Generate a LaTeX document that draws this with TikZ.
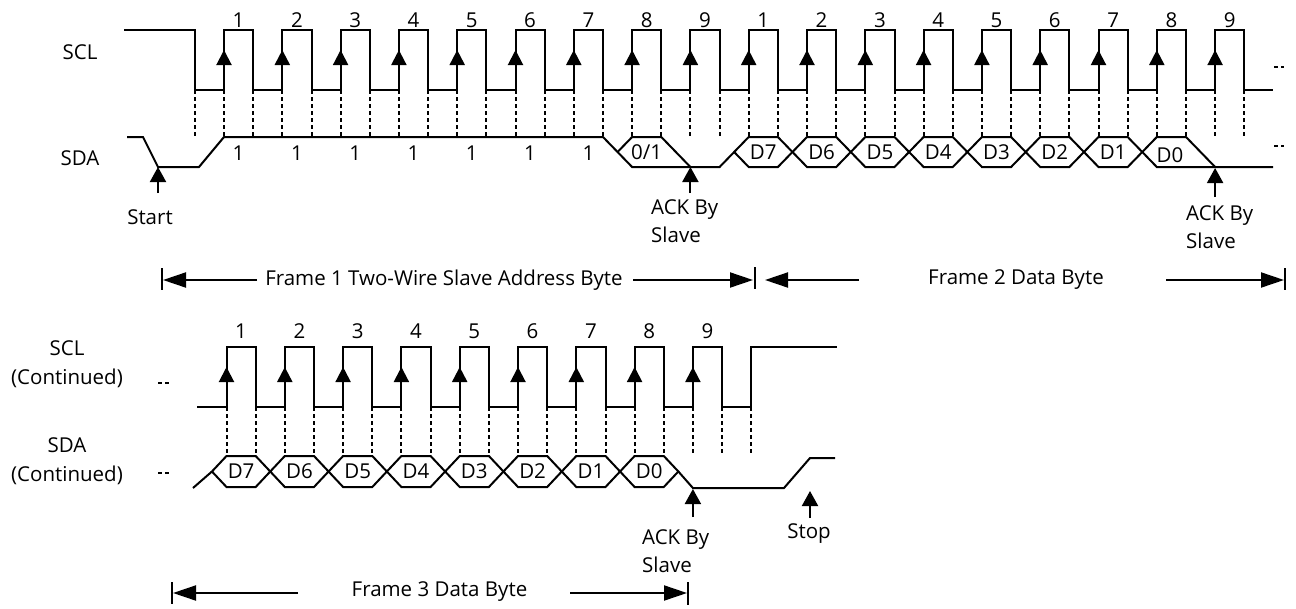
\documentclass[tikz,border=0pt]{standalone}
\usepackage{fontspec}
\setmainfont{Open Sans}
\usetikzlibrary{arrows.meta,calc}

\def\per{58.3}

\begin{document}
\begin{tikzpicture}[x=1pt,y=-1pt,
  wave/.style={line width=2pt},
  tick/.style={line width=2pt, dash pattern=on 4pt off 3pt},
  clk/.style={line width=2pt, -{Triangle[length=15pt,width=15pt]}},
  sig/.style={line width=2pt, -{Triangle[length=15pt,width=16pt]}},
  frm/.style={line width=2pt, -{Triangle[length=23pt,width=15pt]}},
  lbl/.style={font=\fontsize{20.5}{28.5}\selectfont, inner sep=0pt},
]
\useasboundingbox (0,0) rectangle (1296,608);

% signal names
\node[lbl] (scl) at (80,52) {SCL};
\node[lbl] (sda) at (80,158) {SDA};
\node[lbl, align=center] (sclc) at (67,364) {SCL\\(Continued)};
\node[lbl, align=center] (sdac) at (67,461) {SDA\\(Continued)};

% SCL, frame 1 and 2
\draw[wave] (124,30) -- (195,30) -- (195,90)
  foreach \i in {0,...,17} { -- ({224+\per*\i},90) -- ({224+\per*\i},30)
    -- ({253.2+\per*\i},30) -- ({253.2+\per*\i},90) } -- (1273,90);
\draw[tick] (195,90) -- (195,137);
\foreach \i in {0,...,17} {
  \pgfmathtruncatemacro\n{mod(\i,9)+1}
  \draw[clk] ({224+\per*\i},90) -- ({224+\per*\i},50);
  \node[lbl] (c\i) at ({238.6+\per*\i},20) {\n};
  \draw[tick] ({224+\per*\i},90) -- ({224+\per*\i},137);
  \draw[tick] ({253.2+\per*\i},90) -- ({253.2+\per*\i},137);
}
\draw[tick] (1274,67) -- (1284,67);

% SDA, frame 1 and 2
\draw[wave] (127,137) -- (143,137) -- (158,167) -- (199,167) -- (224,137)
  -- (603,137) -- (632.1,167) -- (719.6,167) -- (734.15,152);
\foreach \i in {0,...,6}
  \node[lbl] (a\i) at ({238.6+\per*\i},153) {1};
\draw[wave] (617.55,152) -- (632.1,137) -- (661.3,137) -- (690.4,167);
\node[lbl] (rw) at (646.7,152) {0/1};
\foreach \i/\d in {9/7,10/6,11/5,12/4,13/3,14/2,15/1} {
  \draw[wave] ({224+\per*\i-14.55},152) -- ({224+\per*\i},137)
    -- ({253.2+\per*\i},137) -- ({253.2+\per*\i+14.55},152)
    -- ({253.2+\per*\i},167) -- ({224+\per*\i},167) -- cycle;
  \node[lbl] (d\d) at ({238.6+\per*\i},152) {D\d};
}
\draw[wave] (1142.25,152) -- (1156.8,167) -- (1273,167);
\draw[wave] (1142.25,152) -- (1156.8,137) -- (1186,137) -- (1215.1,167);
\node[lbl] (d0) at (1170,155) {D0};
\draw[tick] (1274,146) -- (1284,146);

% start and ack
\coordinate (startpt) at (158,167);
\draw[sig] ($(startpt)+(0,26)$) -- (startpt);
\node[lbl] (start) at (150,217) {Start};
\coordinate (ackpt) at (690.4,167);
\draw[sig] ($(ackpt)+(0,26)$) -- (ackpt);
\node[lbl, align=left, anchor=west] (ack) at (651,221) {ACK By\\Slave};
\coordinate (ackpt2) at (1215.1,168);
\draw[sig] ($(ackpt2)+(0,29)$) -- (ackpt2);
\node[lbl, align=left, anchor=west] (ack2) at (1186,227) {ACK By\\Slave};

% frame arrows
\node[lbl] (f1) at (444,280) {Frame 1 Two-Wire Slave Address Byte};
\coordinate (f1a) at (257,280); \coordinate (f1l) at (163,280);
\coordinate (f1b) at (633,280); \coordinate (f1r) at (753,280);
\draw[frm] (f1a) -- (f1l);
\draw[frm] (f1b) -- (f1r);
\draw[wave] (162,268) -- (162,290);
\draw[wave] (754.5,267) -- (754.5,289);
\node[lbl] (f2) at (1016,280) {Frame 2 Data Byte};
\coordinate (f2a) at (859,280); \coordinate (f2l) at (765,280);
\coordinate (f2b) at (1166,280); \coordinate (f2r) at (1284,280);
\draw[frm] (f2a) -- (f2l);
\draw[frm] (f2b) -- (f2r);
\draw[wave] (1285,268) -- (1285,290);

% SCL, frame 3
\draw[wave] (197,407)
  foreach \i in {0,...,8} { -- ({226.5+\per*\i},407) -- ({226.5+\per*\i},347)
    -- ({255.7+\per*\i},347) -- ({255.7+\per*\i},407) }
  -- (751.2,407) -- (751.2,347) -- (837,347);
\foreach \i in {0,...,8} {
  \pgfmathtruncatemacro\n{\i+1}
  \draw[clk] ({226.5+\per*\i},407) -- ({226.5+\per*\i},367);
  \node[lbl] (e\i) at ({241.1+\per*\i},331) {\n};
  \draw[tick] ({226.5+\per*\i},407) -- ({226.5+\per*\i},455);
  \draw[tick] ({255.7+\per*\i},407) -- ({255.7+\per*\i},455);
}
\draw[tick] (751.2,407) -- (751.2,455);
\draw[tick] (158,383) -- (169,383);

% SDA, frame 3
\draw[wave] (193,488) -- (211.95,471.5);
\foreach \i/\d in {0/7,1/6,2/5,3/4,4/3,5/2,6/1,7/0} {
  \draw[wave] ({226.5+\per*\i-14.55},471.5) -- ({226.5+\per*\i},456)
    -- ({255.7+\per*\i},456) -- ({255.7+\per*\i+14.55},471.5)
    -- ({255.7+\per*\i},487) -- ({226.5+\per*\i},487) -- cycle;
  \node[lbl] (g\d) at ({241.1+\per*\i},471.5) {D\d};
}
\draw[wave] (678.35,471.5) -- (692.9,488) -- (784,488) -- (810,458) -- (835,458);
\draw[tick] (158,473) -- (169,473);

% ack and stop
\coordinate (ackpt3) at (692.9,489);
\draw[sig] ($(ackpt3)+(0,28)$) -- (ackpt3);
\node[lbl, align=left, anchor=west] (ack3) at (642,551) {ACK By\\Slave};
\coordinate (stoppt) at (810,491);
\draw[sig] ($(stoppt)+(0,27)$) -- (stoppt);
\node[lbl] (stop) at (809,534) {Stop};

% frame 3 arrows
\node[lbl] (f3) at (439.5,592) {Frame 3 Data Byte};
\coordinate (f3a) at (298,593); \coordinate (f3l) at (173,593);
\coordinate (f3b) at (570,593); \coordinate (f3r) at (687,593);
\draw[frm] (f3a) -- (f3l);
\draw[frm] (f3b) -- (f3r);
\draw[wave] (172,582) -- (172,604);
\draw[wave] (688,582) -- (688,605);
\end{tikzpicture}
\end{document}
